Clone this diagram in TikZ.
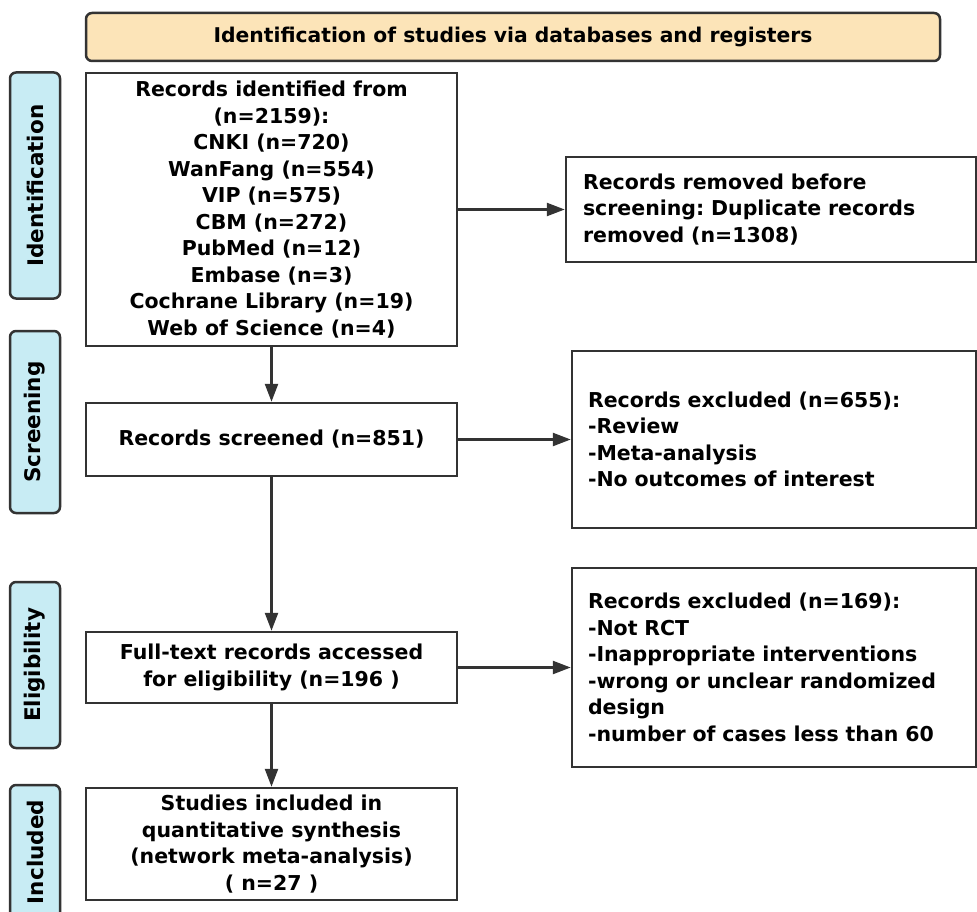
\documentclass[tikz,border=0pt]{standalone}
\usepackage{fontspec}
\setmainfont{DejaVu Sans}
\usetikzlibrary{arrows.meta}
\frenchspacing

\definecolor{edge}{HTML}{333333}
\definecolor{bannerfill}{HTML}{FCE4B8}
\definecolor{phasefill}{HTML}{C8ECF4}

\tikzset{
    box/.style={draw=edge, line width=2.5pt, fill=white, inner sep=0pt,
        align=center, font=\bfseries\fontsize{20.5}{26.5}\selectfont},
    outbox/.style={box, align=left, inner xsep=16pt},
    phase/.style={draw=edge, line width=2.5pt, fill=phasefill, rounded corners=6pt,
        rotate=90, minimum height=50pt, inner sep=0pt,
        font=\bfseries\fontsize{21.5}{24}\selectfont},
    arr/.style={draw=edge, line width=2.5pt, -{Triangle[length=18pt,width=13pt]}}
}

\begin{document}
\begin{tikzpicture}[x=1pt, y=-1pt]
    \useasboundingbox (0,0) rectangle (977,912);

    % banner
    \node[box, fill=bannerfill, rounded corners=6pt, minimum width=854pt, minimum height=48pt,
        font=\bfseries\fontsize{20.3}{22}\selectfont] (banner) at (513,37)
        {Identification of studies via databases and registers};

    % phases
    \node[phase, minimum width=226pt] (idphase) at (35,185.5) {Identification};
    \node[phase, minimum width=182pt] (scrphase) at (35,422) {Screening};
    \node[phase, minimum width=166pt] (eliphase) at (35,665) {Eligibility};
    \node[phase, minimum width=134pt] (incphase) at (35,852) {Included};

    % main column
    \node[box, minimum width=371pt, minimum height=273pt] (ident) at (271.5,209.5)
        {Records identified from\\(n=2159):\\CNKI (n=720)\\WanFang (n=554)\\VIP (n=575)\\CBM (n=272)\\PubMed (n=12)\\Embase (n=3)\\Cochrane Library (n=19)\\Web of Science (n=4)};
    \node[box, minimum width=371pt, minimum height=73pt] (screen) at (271.5,439.5)
        {Records screened (n=851)};
    \node[box, minimum width=371pt, minimum height=71pt] (fulltext) at (271.5,667.5)
        {Full-text records accessed\\for eligibility (n=196 )};
    \node[box, minimum width=371pt, minimum height=112pt] (incl) at (271.5,844)
        {Studies included in\\quantitative synthesis\\(network meta-analysis)\\( n=27 )};

    % right column
    \node[outbox, text width=376pt, inner xsep=17pt, minimum height=105pt] (removed) at (771,209.5)
        {Records removed before\\screening: Duplicate records\\removed (n=1308)};
    \node[outbox, text width=372pt, minimum height=177pt] (excl1) at (774,439.5)
        {Records excluded (n=655):\\-Review\\-Meta-analysis\\-No outcomes of interest};
    \node[outbox, text width=372pt, minimum height=199pt] (excl2) at (774,667.5)
        {Records excluded (n=169):\\-Not RCT\\-Inappropriate interventions\\-wrong or unclear randomized\\design\\-number of cases less than 60};

    \draw[arr] (ident) -- (screen);
    \draw[arr] (screen) -- (fulltext);
    \draw[arr] (fulltext) -- (incl);
    \draw[arr] (ident) -- (removed);
    \draw[arr] (screen) -- (excl1);
    \draw[arr] (fulltext) -- (excl2);
\end{tikzpicture}
\end{document}
